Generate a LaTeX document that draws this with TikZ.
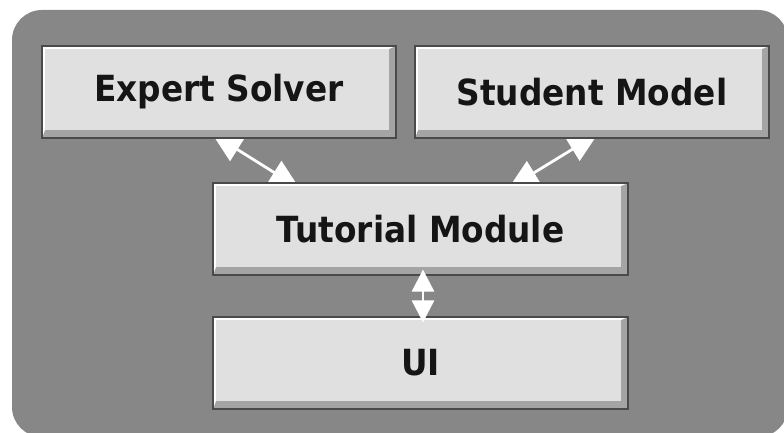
\documentclass[tikz,border=0pt]{standalone}
\usepackage{fontspec}
\usepackage{graphicx}
\newfontfamily\boxfont{DejaVu Sans}
\usetikzlibrary{arrows.meta}
\pgfdeclarelayer{bg}
\pgfdeclarelayer{mid}
\pgfsetlayers{bg,mid,main}
\definecolor{bggray}{HTML}{878787}
\definecolor{boxfill}{HTML}{E0E0E0}
\definecolor{boxshade}{HTML}{A4A4A4}
\definecolor{boxedge}{HTML}{4A4A4A}
\definecolor{txt}{HTML}{151515}
\newcommand\boxtext[1]{\scalebox{0.91}[1]{#1}}
\tikzset{
  bevelbox/.style={
    minimum width=354pt, minimum height=92pt, inner sep=0pt,
    fill=boxshade, draw=boxedge, line width=1.2pt,
    font=\boxfont\bfseries\fontsize{36}{40}\selectfont, text=txt,
    path picture={
      \fill[white] (path picture bounding box.south west)
        -- (path picture bounding box.north west)
        -- (path picture bounding box.north east)
        -- ([xshift=-7pt,yshift=-3pt]path picture bounding box.north east)
        -- ([xshift=3pt,yshift=8pt]path picture bounding box.south west)
        -- cycle;
      \fill[boxfill] ([xshift=3pt,yshift=8pt]path picture bounding box.south west)
        rectangle ([xshift=-7pt,yshift=-3pt]path picture bounding box.north east);
    }},
  link/.style={white, line width=2.8pt,
    {Triangle[length=30pt,width=27pt]}-{Triangle[length=30pt,width=27pt]}},
  shortlink/.style={white, line width=2.8pt,
    {Triangle[length=22pt,width=22pt]}-{Triangle[length=22pt,width=22pt]}}
}
\begin{document}
\begin{tikzpicture}[x=1pt,y=-1pt]
  \useasboundingbox (0,0) rectangle (784,433);
  \begin{pgfonlayer}{bg}
    \clip (0,0) rectangle (784,433);
    \fill[bggray, rounded corners=30pt] (12,10) rectangle (788,437);
  \end{pgfonlayer}
  \node[bevelbox] (es) at (219,92) {\boxtext{Expert Solver}};
  \node[bevelbox] (sm) at (592,92) {\boxtext{Student Model}};
  \node[bevelbox, minimum width=415pt] (tm) at (420.5,229) {\boxtext{Tutorial Module}};
  \node[bevelbox, minimum width=415pt] (ui) at (420.5,363) {\boxtext{UI}};
  \begin{pgfonlayer}{mid}
    \draw[link] ([xshift=-7pt,yshift=5pt]es.south) -- ([xshift=-121pt,yshift=-6pt]tm.north);
    \draw[link] ([xshift=6pt,yshift=5pt]sm.south) -- ([xshift=88pt,yshift=-6pt]tm.north);
  \end{pgfonlayer}
  \draw[shortlink] ([xshift=2.5pt,yshift=6pt]tm.south) -- ([xshift=2.5pt,yshift=-6pt]ui.north);
\end{tikzpicture}
\end{document}
